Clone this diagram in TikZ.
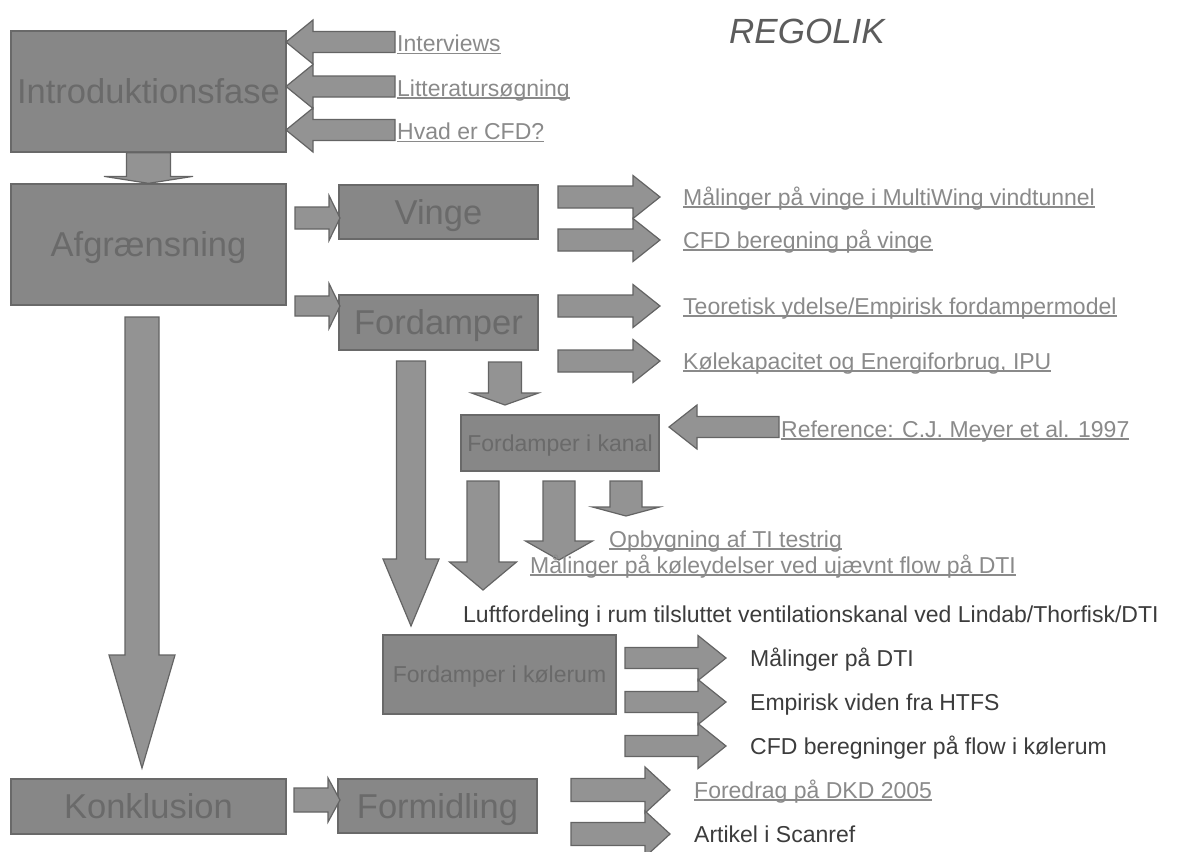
\documentclass[tikz,border=0pt]{standalone}
\usepackage{fontspec}
\setmainfont{Liberation Sans}
\usepackage{xcolor}
\usetikzlibrary{calc}

\definecolor{boxfill}{HTML}{878787}
\definecolor{boxline}{HTML}{696969}
\definecolor{boxtext}{HTML}{6A6A6A}
\definecolor{arrfill}{HTML}{939393}
\definecolor{arrline}{HTML}{646464}
\definecolor{linktext}{HTML}{8A8A8A}
\definecolor{plaintext}{HTML}{3C3C3C}
\definecolor{titletext}{HTML}{5C5C5C}

% underlined (link) text
\newcommand{\ulink}[1]{\setbox0\hbox{#1}\rlap{\rule[-2.6pt]{\wd0}{1.6pt}}\box0}

% block arrow: start, tip, shaft half width, head half width, head length
\newcommand{\blockarrow}[5]{%
  \coordinate (ba-h) at ($(#2)!#5pt!(#1)$);
  \draw[blockarr] ($(#1)!#3pt!90:(#2)$) -- ($(ba-h)!#3pt!90:(#2)$)
    -- ($(ba-h)!#4pt!90:(#2)$) -- (#2) -- ($(ba-h)!#4pt!-90:(#2)$)
    -- ($(ba-h)!#3pt!-90:(#2)$) -- ($(#1)!#3pt!-90:(#2)$) -- cycle;
}

\begin{document}
\begin{tikzpicture}[x=1pt,y=-1pt,
    box/.style={draw=boxline,fill=boxfill,text=boxtext,line width=1.3pt,inner sep=0pt,text depth=0pt},
    bigbox/.style={box,text height=24.7pt,font={\fontsize{34.5}{40}\selectfont}},
    smallbox/.style={box,text height=16.5pt,font={\fontsize{23}{27}\selectfont}},
    blockarr/.style={draw=arrline,fill=arrfill,line width=1.2pt,line join=miter},
    link/.style={anchor=base west,inner sep=0pt,text=linktext,font={\fontsize{23}{27}\selectfont}},
    plain/.style={anchor=base west,inner sep=0pt,text=plaintext,font={\fontsize{23}{27}\selectfont}}]

  \useasboundingbox (0,0) rectangle (1177,851);
  \fill[white] (0,0) rectangle (1177,851);
  \clip (0,0) rectangle (1177,851);

  % title
  \node[anchor=base west,inner sep=0pt,text=titletext,
        font={\fontsize{35}{40}\selectfont\itshape}] (title) at (729,44) {REGOLIK};

  % main phases
  \node[bigbox,minimum width=275,minimum height=121] (intro) at (148.5,91.5) {Introduktionsfase};
  \node[bigbox,minimum width=275,minimum height=121] (afgr) at (148.5,244.5) {Afgrænsning};
  \node[bigbox,minimum width=275,minimum height=55] (konk) at (148.5,806.5) {Konklusion};

  % sub phases
  \node[bigbox,minimum width=199,minimum height=54] (vinge) at (438.5,212) {Vinge};
  \node[bigbox,minimum width=199,minimum height=55] (ford) at (438.5,322.5) {Fordamper};
  \node[bigbox,minimum width=199,minimum height=54] (formid) at (437.5,806) {Formidling};
  \node[smallbox,minimum width=198,minimum height=56] (kanal) at (560,443) {Fordamper i kanal};
  \node[smallbox,minimum width=233,minimum height=79] (kolerum) at (499.5,674.5) {Fordamper i kølerum};

  % inputs to introduction
  \foreach \y/\t [count=\i] in {42/Interviews,86.5/Litteratursøgning,130/Hvad er CFD?} {
    \coordinate (ia\i) at (395,\y);
    \coordinate (ib\i) at (286,\y);
    \blockarrow{ia\i}{ib\i}{10.5}{22}{27}
    \node[link] (il\i) at (397,\y+9.6) {\ulink{\t}};
  }

  % flow between phases
  \blockarrow{intro.south}{afgr.north}{22}{44.5}{7}
  \coordinate (la) at (142,317);
  \coordinate (lb) at (142,768);
  \blockarrow{la}{lb}{17}{33}{113}
  \coordinate (ka) at (294,800);
  \coordinate (kb) at (340,800);
  \blockarrow{ka}{kb}{12}{22}{12}
  \coordinate (va) at (295,218);
  \coordinate (vb) at (340,218);
  \blockarrow{va}{vb}{11}{22.5}{11}
  \coordinate (fa) at (295,306);
  \coordinate (fb) at (340,306);
  \blockarrow{fa}{fb}{10}{22.5}{11}

  % outputs from vinge and fordamper
  \foreach \y/\t [count=\i] in {197/Målinger på vinge i MultiWing vindtunnel,
                                240/CFD beregning på vinge,
                                306/{Teoretisk ydelse/Empirisk fordampermodel},
                                361/{Kølekapacitet og Energiforbrug, IPU}} {
    \coordinate (oa\i) at (558,\y);
    \coordinate (ob\i) at (660,\y);
    \blockarrow{oa\i}{ob\i}{11}{21.5}{27}
    \node[link] (ol\i) at (683,\y+8) {\ulink{\t}};
  }

  % fordamper down to kanal and kølerum
  \coordinate (da) at (411,361);
  \coordinate (db) at (411,626);
  \blockarrow{da}{db}{14.5}{28}{67}
  \coordinate (sa) at (505,362);
  \coordinate (sb) at (505,405);
  \blockarrow{sa}{sb}{16.5}{33.5}{12}

  % reference into kanal
  \coordinate (ra) at (779,427);
  \coordinate (rb) at (669,427);
  \blockarrow{ra}{rb}{10.5}{22}{28}
  \node[link] (rl) at (781,437) {\ulink{Reference: C.J. Meyer et al. 1997}};

  % outputs from kanal
  \foreach \x/\l/\h [count=\i] in {483/109/28, 559/79/19, 626/35/9} {
    \coordinate (ca\i) at (\x,481);
    \coordinate (cb\i) at (\x,481+\l);
    \blockarrow{ca\i}{cb\i}{16}{33.5}{\h}
  }
  \node[link] (cl1) at (609,547) {\ulink{Opbygning af TI testrig}};
  \node[link] (cl2) at (530,573) {\ulink{Målinger på køleydelser ved ujævnt flow på DTI}};
  \node[plain] (luft) at (463,622) {Luftfordeling i rum tilsluttet ventilationskanal ved Lindab/Thorfisk/DTI};

  % outputs from kølerum
  \foreach \y/\t [count=\i] in {658/Målinger på DTI,702/Empirisk viden fra HTFS,746/CFD beregninger på flow i kølerum} {
    \coordinate (ma\i) at (625,\y);
    \coordinate (mb\i) at (726,\y);
    \blockarrow{ma\i}{mb\i}{10.5}{22.5}{28}
    \node[plain] (ml\i) at (750,\y+8) {\t};
  }

  % outputs from formidling
  \foreach \y [count=\i] in {790,834} {
    \coordinate (pa\i) at (571,\y);
    \coordinate (pb\i) at (670,\y);
    \blockarrow{pa\i}{pb\i}{11.5}{23}{25}
  }
  \node[link] (pl1) at (694,798) {\ulink{Foredrag på DKD 2005}};
  \node[plain] (pl2) at (694,842) {Artikel i Scanref};

\end{tikzpicture}
\end{document}
